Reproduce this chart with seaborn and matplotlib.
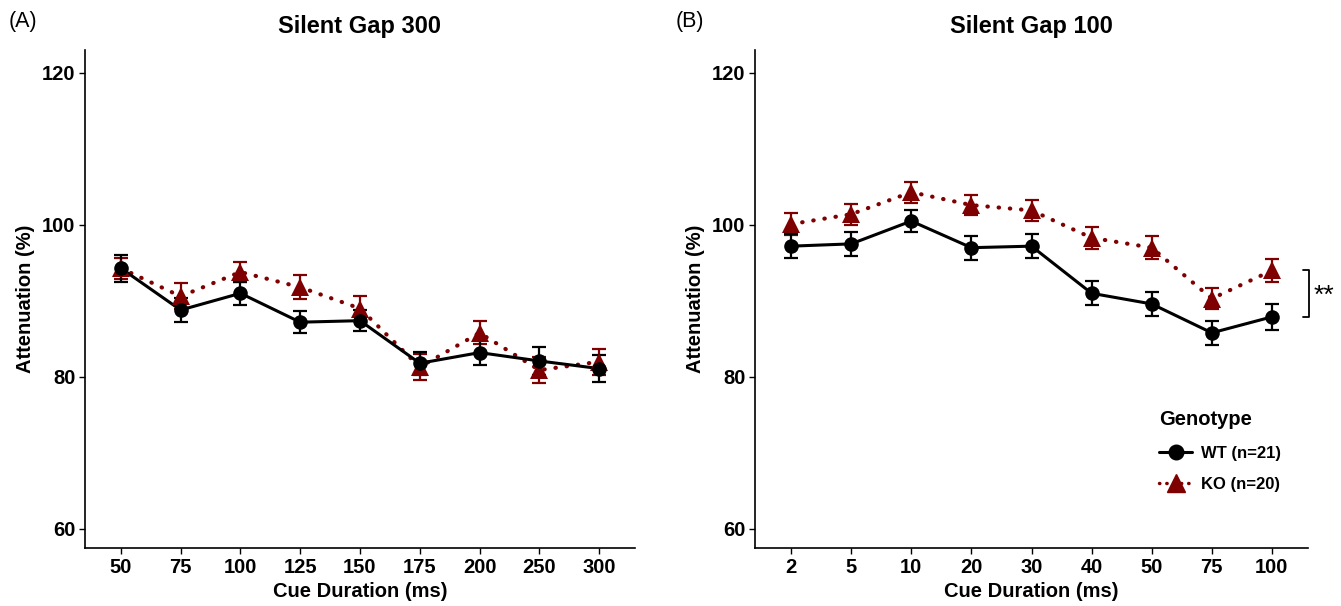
import numpy as np
import pandas as pd
import matplotlib
matplotlib.use("Agg")
import matplotlib.pyplot as plt
import seaborn as sns
from matplotlib.lines import Line2D

# ---- data ----
cues_A = ["50", "75", "100", "125", "150", "175", "200", "250", "300"]
wt_A = [94.3, 88.8, 91.0, 87.2, 87.4, 81.8, 83.2, 82.1, 81.1]
wt_A_se = [1.8, 1.6, 1.5, 1.45, 1.4, 1.5, 1.6, 1.8, 1.8]
ko_A = [94.3, 90.6, 93.8, 91.8, 89.0, 81.3, 85.8, 80.9, 82.0]
ko_A_se = [1.4, 1.7, 1.3, 1.6, 1.6, 1.7, 1.5, 1.7, 1.7]

cues_B = ["2", "5", "10", "20", "30", "40", "50", "75", "100"]
wt_B = [97.2, 97.5, 100.5, 97.0, 97.2, 91.0, 89.6, 85.8, 87.9]
wt_B_se = [1.6, 1.6, 1.4, 1.6, 1.6, 1.6, 1.6, 1.6, 1.7]
ko_B = [100.1, 101.4, 104.3, 102.6, 101.9, 98.3, 97.0, 90.3, 94.0]
ko_B_se = [1.4, 1.4, 1.4, 1.3, 1.4, 1.45, 1.5, 1.4, 1.45]

genotypes = ["WT (n=21)", "KO (n=20)"]
titles = ["Silent Gap 300", "Silent Gap 100"]
panel_tags = ["(A)", "(B)"]
yticks = [60, 80, 100, 120]

sns.set_theme(style="white")
plt.rcParams['font.family'] = ['Liberation Sans', 'DejaVu Sans']
for key in ["text.color", "axes.labelcolor", "xtick.color", "ytick.color", "axes.edgecolor"]:
    plt.rcParams[key] = "black"

W, H = 1341, 606
fig = plt.figure(figsize=(W / 100, H / 100), dpi=100)
axA = fig.add_axes([85 / W, 1 - 548 / H, 550 / W, 498 / H])
axB = fig.add_axes([755 / W, 1 - 548 / H, 553 / W, 498 / H])

colors = {genotypes[0]: "#000000", genotypes[1]: "#7f0000"}
markers = {genotypes[0]: "o", genotypes[1]: "^"}
msize = {genotypes[0]: 10.5, genotypes[1]: 13}
dotted = (0, (0.1, 2.6))

def make_df(cues, wt, wt_se, ko, ko_se):
    rows = []
    for i, c in enumerate(cues):
        rows.append(dict(pos=i, cue=c, val=wt[i], se=wt_se[i], g=genotypes[0]))
        rows.append(dict(pos=i, cue=c, val=ko[i], se=ko_se[i], g=genotypes[1]))
    return pd.DataFrame(rows)

panels = [
    (axA, make_df(cues_A, wt_A, wt_A_se, ko_A, ko_A_se), cues_A),
    (axB, make_df(cues_B, wt_B, wt_B_se, ko_B, ko_B_se), cues_B),
]

for k, (ax, df, cues) in enumerate(panels):
    for g in genotypes[::-1]:
        sub = df[df.g == g]
        ls = "-" if g == genotypes[0] else dotted
        sns.lineplot(data=sub, x="pos", y="val", ax=ax, color=colors[g],
                     linewidth=2.2 if g == genotypes[0] else 3.0,
                     linestyle=ls, dash_capstyle="round", solid_capstyle="butt",
                     marker=None, legend=False, zorder=2)
        ax.errorbar(sub.pos, sub.val, yerr=sub.se, fmt="none", ecolor=colors[g],
                    elinewidth=1.6, capsize=5, capthick=1.6, zorder=3)
        ax.plot(sub.pos, sub.val, linestyle="none", marker=markers[g],
                markersize=msize[g], color=colors[g], markeredgewidth=0, zorder=4)
    ax.set_xlim(-0.6, len(cues) - 0.4)
    ax.set_ylim(57.5, 123)
    ax.set_xticks(range(len(cues)))
    ax.set_xticklabels(cues)
    ax.set_yticks(yticks)
    ax.tick_params(axis="both", which="both", direction="out", length=4, width=1,
                   color="black", labelsize=14.5, labelcolor="black", bottom=True, left=True, pad=3)
    for lab in ax.get_xticklabels() + ax.get_yticklabels():
        lab.set_fontweight("bold")
    for s in ["top", "right"]:
        ax.spines[s].set_visible(False)
    for s in ["left", "bottom"]:
        ax.spines[s].set_color("black")
        ax.spines[s].set_linewidth(1.2)
    ax.set_xlabel("Cue Duration (ms)", fontsize=14.5, fontweight="bold", labelpad=4)
    ax.set_ylabel("Attenuation (%)", fontsize=14.5, fontweight="bold", labelpad=5)
    ax.set_title(titles[k], fontsize=17, fontweight="bold", pad=12)
    ax.grid(False)

fig.text(9 / W, 1 - 22 / H, panel_tags[0], fontsize=15.5, va="center", ha="left")
fig.text(676 / W, 1 - 22 / H, panel_tags[1], fontsize=15.5, va="center", ha="left")

# significance bracket on panel B at last point
last = len(cues_B) - 1
xb = last + 0.62
axB.plot([last + 0.52, xb, xb, last + 0.52], [ko_B[last], ko_B[last], wt_B[last], wt_B[last]],
         color="black", linewidth=1.3, clip_on=False)
axB.text(xb + 0.07, (ko_B[last] + wt_B[last]) / 2 - 0.3, "**", fontsize=19, va="center",
         ha="left", clip_on=False)

# legend
handles = [
    Line2D([0], [0], color=colors[genotypes[0]], marker="o", markersize=10.5, linewidth=2.2),
    Line2D([0], [0], color=colors[genotypes[1]], marker="^", markersize=13, linewidth=2.5,
           linestyle=(0, (0.1, 2.0)), dash_capstyle="round"),
]
leg = axB.legend(handles, genotypes, title="Genotype", loc="upper left",
                 bbox_to_anchor=((1144 - 755) / 553, 1 - (395 - 50) / 498),
                 frameon=False, fontsize=12, title_fontsize=14.5, handlelength=2.0,
                 labelspacing=1.0, handletextpad=0.5)
leg.get_title().set_fontweight("bold")
for t in leg.get_texts():
    t.set_fontweight("bold")
leg._legend_box.align = "left"

fig.savefig("out.png", dpi=100)
